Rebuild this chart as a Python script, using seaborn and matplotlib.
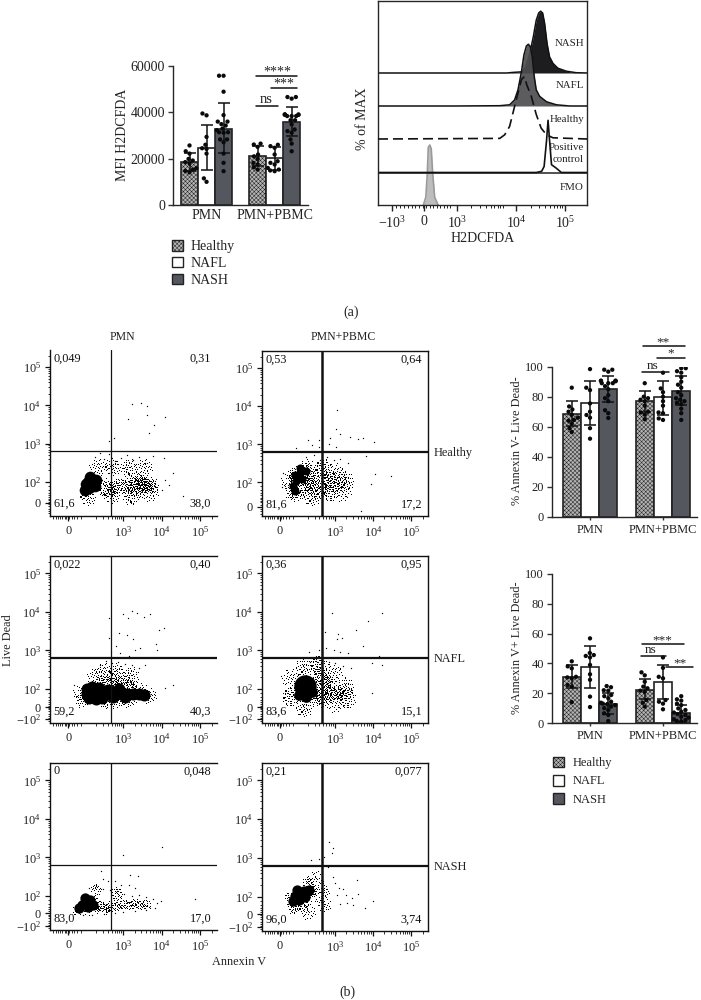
import warnings
import numpy as np
import pandas as pd
import matplotlib
matplotlib.use("Agg")
import matplotlib.pyplot as plt
from matplotlib.patches import Patch
from matplotlib.path import Path
from matplotlib.markers import MarkerStyle
import seaborn as sns

warnings.filterwarnings("ignore")
sns.set_theme(style="ticks")
plt.rcParams["font.family"] = ["Liberation Serif", "DejaVu Serif"]
plt.rcParams["mathtext.default"] = "regular"
plt.rcParams["hatch.linewidth"] = 0.35
plt.rcParams["axes.linewidth"] = 1.0

W, H = 701, 1000
GROUPS = ["Healthy", "NAFL", "NASH"]
COLORS = {"Healthy": "#b4b4b4", "NAFL": "#ffffff", "NASH": "#55575f"}
CONDITIONS = ["PMN", "PMN+PBMC"]

# ---------- bars: means, error limits (low, high), dots ----------
MFI_MEAN = [[18700, 21200], [24800, 20200], [33000, 36000]]
MFI_LOW = [[14800, 17000], [15000, 15000], [22300, 29800]]
MFI_HIGH = [[22500, 25500], [34500, 25200], [44000, 42500]]
MFI_DOTS = {
    ("Healthy", 0): [25700, 23200, 22200, 19900, 19200, 18500, 17900, 15900, 15300, 14700, 14100],
    ("NAFL", 0): [38700, 39500, 29400, 26000, 24500, 24200, 22200, 11500, 10000],
    ("NASH", 0): [55800, 55800, 48900, 38800, 36000, 36000, 34900, 34300, 33000, 32300, 31400, 31400,
                  31200, 28300, 28300, 27100, 22200, 18200, 14600],
    ("Healthy", 1): [26500, 26100, 25100, 21800, 21000, 19900, 18200, 17500, 16300, 15300],
    ("NAFL", 1): [26000, 25400, 24700, 21800, 18900, 18200, 17500, 16000, 15300, 14900, 14600],
    ("NASH", 1): [46600, 46600, 45900, 39100, 39100, 39000, 39000, 38900, 38400, 38400, 38400, 36600, 36600,
                  34800, 32600, 31900, 31200, 28300, 26500, 23200],
}
NEG_MEAN = [[68.5, 77], [76, 79.5], [85, 84]]
NEG_LOW = [[60.5, 70], [61, 68], [76.3, 74.5]]
NEG_HIGH = [[77, 84], [90.7, 90.5], [94, 94]]
NEG_DOTS = {
    ("Healthy", 0): [86, 73.5, 71.5, 70, 68, 66, 64.5, 64, 62, 59, 56.5],
    ("NAFL", 0): [98.4, 86, 84.4, 75.5, 70, 67.8, 66, 59, 52],
    ("NASH", 0): [98, 98, 96.7, 90.7, 90.7, 90.5, 90.5, 90.3, 89, 89, 89, 87, 85, 81, 79, 77, 71, 69, 65.8],
    ("Healthy", 1): [89, 80, 79, 78, 77, 74, 70, 69.5, 68, 65],
    ("NAFL", 1): [96, 85.5, 83, 80, 77, 74, 69.5, 69, 65.5, 64.5],
    ("NASH", 1): [99, 99, 97, 96, 93, 90, 88, 86, 83, 81, 79, 78, 77, 76, 75, 72, 69, 64.5],
}
POS_MEAN = [[31, 22.3], [37.5, 27.5], [13, 6.7]]
POS_LOW = [[23.5, 16], [23.5, 16], [6, 1]]
POS_HIGH = [[39, 29.5], [52, 39], [20, 12]]
POS_DOTS = {
    ("Healthy", 0): [41.4, 38, 36.7, 31, 30.6, 30, 25.5, 24.4, 14],
    ("NAFL", 0): [56.8, 47, 45.6, 45, 44, 39, 32.7, 29, 17.7, 10.7],
    ("NASH", 0): [24.8, 24, 22, 21.7, 18.8, 18, 16.6, 14.3, 13.6, 13, 12.7, 12, 11, 10, 8.7, 6.5, 5.4, 1.3],
    ("Healthy", 1): [34, 32, 27.7, 24.4, 23.3, 21.7, 21, 15.4, 13.6, 11],
    ("NAFL", 1): [44, 37, 31, 30, 15.4, 14.3, 13, 9.2],
    ("NASH", 1): [18, 15.9, 15, 13, 12, 9.8, 8.7, 7.6, 7, 6, 5.4, 4.3, 3.6, 2.5, 2, 1.3, 1],
}

# ---------- histogram overlays: display channel, % of max ----------
HIST_NASH_X = [-0.93, 1.68, 1.81, 2.0, 2.08, 2.15, 2.22, 2.28, 2.33, 2.37, 2.41, 2.45, 2.5, 2.55, 2.62, 2.72, 2.89, 3.09, 3.31]
HIST_NASH_Y = [0, 0, 1, 2, 13, 33, 60, 88, 100, 103, 100, 83, 49, 27, 16, 8, 3, 0.5, 0]
HIST_NAFL_X = [-0.93, 0.63, 1.54, 1.74, 1.84, 1.91, 1.98, 2.03, 2.08, 2.12, 2.16, 2.2, 2.24, 2.28, 2.35, 2.49, 2.69, 2.96, 3.31]
HIST_NAFL_Y = [0, 0, 0.5, 2, 10, 27, 57, 85, 100, 103, 99, 82, 49, 27, 16, 7, 2, 0, 0]
HIST_HEALTHY_X = [-0.93, 1.54, 1.64, 1.74, 1.84, 1.91, 1.98, 2.04, 2.09, 2.18, 2.28, 2.38, 2.49, 2.62, 3.31]
HIST_HEALTHY_Y = [0, 1, 7, 21, 54, 77, 99, 104, 90, 71, 41, 18, 7, 2, 0]
HIST_POS_X = [-0.93, 2.28, 2.39, 2.44, 2.49, 2.52, 2.55, 2.59, 2.69, 2.79, 3.31]
HIST_POS_Y = [0, 0, 2, 10, 54, 87, 54, 13, 7, 0, 0]
HIST_FMO_X = [-0.01, 0.04, 0.07, 0.09, 0.12, 0.15, 0.18, 0.22, 0.29]
HIST_FMO_Y = [0, 13, 52, 96, 100, 94, 52, 13, 0]
HIST_TICKS = [-0.65, 0, 0.67, 1.87, 2.86]
HIST_TICK_LABELS = [r"$-10^{3}$", "0", r"$10^{3}$", r"$10^{4}$", r"$10^{5}$"]

# ---------- flow cytometry clouds, read as (x channel, y channel) ----------
R1C1_CORE = [(2.10, 2.00), (2.20, 2.02), (2.12, 1.85), (2.26, 1.90), (2.03, 1.95), (2.30, 2.06), (2.15, 2.12), (2.02, 1.80)]
R1C1_MID = [(2.50, 1.90), (2.70, 1.85), (2.90, 1.90), (3.05, 1.88), (3.20, 1.88), (3.32, 1.92), (3.42, 1.90), (3.50, 1.96),
            (3.58, 1.92), (3.66, 1.92), (3.75, 1.92), (3.45, 2.02), (2.58, 1.75), (3.40, 1.80)]
R1C1_HALO = [(2.35, 2.35), (2.75, 2.40), (3.15, 2.35), (3.55, 2.35), (2.70, 1.65), (3.20, 1.62), (3.70, 1.70), (2.10, 1.60)]
R1C1_DUST = [(3.24, 4.03), (3.47, 4.06), (3.62, 3.99), (3.62, 3.74), (3.14, 3.65), (3.81, 3.49), (4.10, 3.70), (3.66, 3.29),
             (2.77, 3.16), (2.64, 3.07), (2.40, 2.75), (2.28, 2.66), (2.50, 2.60), (2.63, 2.72), (2.78, 2.55), (2.95, 2.63),
             (3.10, 2.70), (3.25, 2.58), (3.42, 2.66), (3.56, 2.50), (3.78, 2.68), (4.05, 2.62), (4.10, 2.05), (4.18, 1.92),
             (4.30, 2.22), (4.55, 1.63), (4.02, 1.80)]
R1C2_CORE = [(1.95, 2.20), (2.10, 2.25), (2.25, 2.30), (2.00, 2.05), (2.15, 2.10), (1.90, 1.90), (1.95, 1.78), (2.10, 2.38)]
R1C2_MID = [(1.80, 2.05), (1.85, 1.75), (2.05, 1.70), (2.20, 1.85), (2.32, 2.00), (2.38, 2.15), (2.42, 1.90), (2.30, 2.40),
            (1.95, 2.20), (2.10, 2.25), (2.25, 2.30), (2.00, 2.05), (2.15, 2.10)]
R1C2_HALO = [(2.65, 2.10), (2.62, 1.80), (2.88, 2.05), (3.10, 2.00), (3.30, 2.05), (2.90, 1.75), (3.20, 1.75), (2.40, 1.62),
             (2.70, 2.35), (3.00, 2.25)]
R1C2_DUST = [(3.06, 3.91), (3.03, 3.39), (3.13, 3.28), (2.88, 3.17), (2.84, 3.01), (3.03, 2.94), (3.40, 3.19), (3.60, 3.14),
             (3.73, 3.17), (4.03, 3.07), (2.31, 3.12), (2.42, 2.98), (2.60, 3.12), (2.60, 2.93), (2.00, 2.90), (3.81, 2.70),
             (4.46, 2.18), (4.05, 2.23), (3.69, 1.25), (2.25, 2.68), (2.45, 2.72), (2.62, 2.60), (2.80, 2.68), (2.98, 2.58),
             (3.15, 2.62), (3.35, 2.52), (3.95, 1.95), (1.62, 1.88), (1.65, 2.25)]
R2C1_CORE = [(2.05, 1.88), (2.20, 1.92), (2.35, 1.88), (2.12, 1.78), (2.30, 1.75), (2.50, 1.88), (2.65, 1.88), (2.80, 1.92),
             (2.95, 1.90), (3.10, 1.88), (3.25, 1.86), (3.40, 1.86), (2.05, 2.00), (2.20, 2.05), (2.45, 1.78), (2.75, 1.80),
             (2.60, 1.98), (2.90, 2.00), (3.05, 1.80), (3.55, 1.85), (2.38, 2.02)]
R2C1_MID = [(3.68, 1.82), (3.50, 1.95), (2.50, 2.15), (2.65, 2.15), (2.80, 2.18), (2.95, 2.12), (3.10, 2.08), (3.25, 2.02),
            (1.95, 1.72), (1.90, 1.90), (2.55, 1.68), (2.85, 1.68), (3.15, 1.72)]
R2C1_HALO = [(2.50, 2.45), (2.85, 2.45), (3.20, 2.35), (2.30, 2.30)]
R2C1_DUST = [(2.99, 3.95), (3.24, 4.02), (3.37, 3.98), (3.54, 3.87), (3.70, 3.94), (3.14, 3.85), (4.06, 3.58), (3.92, 3.53),
             (2.64, 3.85), (2.64, 3.33), (2.90, 3.46), (3.11, 3.39), (3.25, 3.30), (2.81, 3.11), (3.31, 3.00), (3.44, 3.07),
             (3.86, 3.17), (3.88, 3.00), (2.68, 2.96), (2.92, 2.94), (3.16, 2.85), (2.40, 2.62), (2.55, 2.72), (2.72, 2.68),
             (2.88, 2.70), (3.05, 2.65), (3.22, 2.62), (3.40, 2.55), (3.58, 2.62), (4.10, 2.02), (4.30, 2.10), (1.72, 2.10)]
R2C2_CORE = [(2.26, 2.11), (2.08, 1.85), (2.25, 1.80), (2.42, 1.92)]
R2C2_CORE_BIG = [(2.22, 2.08)]
R2C2_MID = [(2.55, 2.10), (2.60, 1.90), (2.55, 1.75), (2.72, 2.30), (2.78, 2.05), (2.88, 1.88), (2.98, 1.90), (2.85, 2.20),
            (2.62, 2.38), (2.72, 1.72), (3.15, 1.90)]
R2C2_HALO = [(2.95, 2.42), (3.30, 2.05), (3.35, 1.75), (3.00, 1.65), (2.20, 1.52), (1.85, 1.80), (1.85, 2.25), (2.20, 2.55),
             (2.60, 2.62)]
R2C2_DUST = [(2.93, 3.97), (4.23, 3.97), (3.86, 3.76), (3.56, 3.54), (2.76, 3.48), (3.10, 3.44), (3.20, 3.32), (3.07, 3.31),
             (3.74, 3.12), (2.60, 3.00), (2.78, 3.06), (2.98, 3.00), (3.14, 2.96), (3.36, 2.94), (4.16, 2.86), (3.97, 2.67),
             (4.25, 2.63), (2.33, 2.96), (2.35, 2.70), (2.50, 2.72), (2.68, 2.75), (2.85, 2.70), (3.02, 2.68), (3.22, 2.60),
             (3.42, 2.55), (3.98, 1.90), (1.45, 1.40)]
R3C1_CORE = [(2.02, 1.85), (2.14, 1.90), (1.92, 1.78), (2.08, 1.72), (2.22, 1.76), (1.85, 1.70), (2.00, 1.95)]
R3C1_MID = [(2.32, 1.72), (2.42, 1.75), (2.52, 1.70), (2.62, 1.74), (2.72, 1.72), (2.82, 1.76), (2.92, 1.74), (3.02, 1.78),
            (3.12, 1.76), (3.22, 1.80), (3.32, 1.76), (3.42, 1.80), (3.52, 1.78), (3.62, 1.78), (2.30, 1.88), (2.38, 1.66),
            (1.80, 1.62), (2.10, 1.62), (2.60, 1.64)]
R3C1_HALO = [(2.30, 2.15), (2.85, 2.05)]
R3C1_DUST = [(4.02, 3.26), (3.00, 3.07), (2.42, 2.65), (3.18, 2.54), (3.39, 2.51), (2.48, 2.43), (4.87, 1.92), (2.60, 2.38),
             (2.78, 2.38), (2.95, 2.28), (3.15, 2.28), (3.32, 2.22), (2.30, 2.28), (2.12, 2.22), (2.48, 2.18), (2.65, 2.15),
             (2.85, 2.12), (3.02, 2.05), (3.22, 2.00), (3.40, 2.02), (3.60, 1.98), (3.78, 1.92), (3.88, 1.82), (3.98, 1.88),
             (3.82, 1.68), (3.60, 1.64), (3.30, 1.62), (3.00, 1.58), (2.78, 1.56), (2.50, 1.54), (2.20, 1.50), (1.95, 1.52)]
R3C2_CORE = [(2.08, 2.08), (1.95, 2.02), (2.20, 2.14), (2.32, 2.18), (1.92, 1.90), (2.08, 1.92), (2.22, 2.00), (2.02, 2.18)]
R3C2_MID = [(2.42, 2.18), (2.30, 2.32), (1.85, 1.98), (2.00, 1.78), (2.18, 1.82), (2.45, 2.05)]
R3C2_HALO = [(2.50, 2.45), (2.72, 2.15), (2.72, 1.80), (2.30, 1.62), (1.90, 1.70)]
R3C2_DUST = [(2.85, 3.42), (2.95, 3.27), (2.93, 3.12), (2.72, 3.03), (2.39, 2.94), (2.60, 2.97), (2.82, 2.78), (3.58, 2.43),
             (3.62, 2.08), (4.00, 1.89), (3.79, 1.72), (3.44, 1.96), (3.31, 1.85), (3.47, 1.79), (3.22, 2.20), (2.95, 2.50),
             (3.15, 1.82), (3.30, 2.05), (3.12, 2.22), (3.05, 2.05), (3.02, 2.35)]

FLOW_PANELS = [
    ("0,049", "0,31", "61,6", "38,0", R1C1_CORE, R1C1_MID, R1C1_HALO, R1C1_DUST, 1.45, False, 70, 130, 170),
    ("0,53", "0,64", "81,6", "17,2", R1C2_CORE, R1C2_MID, R1C2_HALO, R1C2_DUST, 1.36, False, 34, 130, 190),
    ("0,022", "0,40", "59,2", "40,3", R2C1_CORE, R2C1_MID, R2C1_HALO, R2C1_DUST, 1.53, True, 75, 130, 170),
    ("0,36", "0,95", "83,6", "15,1", R2C2_CORE, R2C2_MID, R2C2_HALO, R2C2_DUST, 1.53, True, 60, 130, 190),
    ("0", "0,048", "83,0", "17,0", R3C1_CORE, R3C1_MID, R3C1_HALO, R3C1_DUST, 1.55, True, 55, 50, 100),
    ("0,21", "0,077", "96,0", "3,74", R3C2_CORE, R3C2_MID, R3C2_HALO, R3C2_DUST, 1.55, True, 55, 100, 120),
]
FLOW_BOXES = [(50, 217, 350, 515.5), (262, 428, 351, 516), (50, 217, 556, 723),
              (262, 428, 556, 723), (50, 217, 763, 930), (262, 428, 763, 931)]

# Marker shape: a clump of events, each tiny square one event
SPECKLE = [(0.02, 0.05), (-0.12, 0.18), (0.15, -0.10), (-0.25, -0.08), (0.28, 0.14), (0.05, -0.30), (-0.08, 0.34),
           (0.34, -0.27), (-0.36, 0.27), (-0.30, -0.34), (0.22, 0.40), (0.48, 0.02), (-0.50, 0.05), (0.08, 0.52),
           (-0.05, -0.52), (0.42, -0.44), (-0.44, -0.48), (0.40, 0.50), (-0.38, 0.55), (0.65, 0.22), (-0.68, -0.18),
           (0.18, -0.66), (-0.22, 0.70), (0.70, -0.20), (-0.66, 0.38), (0.55, -0.60), (-0.58, -0.62), (0.58, 0.62),
           (0.12, 0.82), (-0.10, -0.85), (0.85, 0.08), (-0.88, 0.02), (0.82, 0.42), (-0.80, -0.45), (0.38, -0.88),
           (-0.42, 0.88), (0.95, -0.30), (-0.95, 0.30), (0.30, 0.95), (-0.28, -0.95)]


def speckle_marker(a, b, c, d):
    verts, codes = [], []
    h = 0.055
    for x, y in SPECKLE:
        px, py = a * x + b * y, c * x + d * y
        verts += [(px - h, py - h), (px + h, py - h), (px + h, py + h), (px - h, py + h), (px - h, py - h)]
        codes += [Path.MOVETO, Path.LINETO, Path.LINETO, Path.LINETO, Path.CLOSEPOLY]
    return MarkerStyle(Path(verts, codes))


STAMPS = [speckle_marker(1, 0, 0, 1), speckle_marker(0.75, 0.3, -0.45, 0.8), speckle_marker(-0.6, 0.55, 0.6, 0.7)]


def add_ax(left, right, top, bottom):
    return fig.add_axes([left / W, 1 - bottom / H, (right - left) / W, (bottom - top) / H])


def ftext(x, y, s, **kw):
    kw.setdefault("ha", "center")
    kw.setdefault("va", "center")
    kw.setdefault("color", "#222222")
    fig.text(x / W, 1 - y / H, s, **kw)


def fline(x0, x1, y):
    fig.add_artist(plt.Line2D([x0 / W, x1 / W], [1 - y / H, 1 - y / H], color="#111111", lw=1.1))


def bar_panel(box, means, lows, highs, dots, ymax, yticks, fs, dot_size, tick_len):
    ax = add_ax(*box[:4])
    pos_bar, val_bar, grp_bar = [], [], []
    pos_dot, val_dot, grp_dot = [], [], []
    for j, g in enumerate(GROUPS):
        for i in range(2):
            x = i + (j - 1) * 0.25
            pos_bar.append(x); val_bar.append(means[j][i]); grp_bar.append(g)
            for v in dots[(g, i)]:
                pos_dot.append(x); val_dot.append(v); grp_dot.append(g)
    bars = pd.DataFrame({"x": pos_bar, "y": val_bar, "g": grp_bar})
    pts = pd.DataFrame({"x": pos_dot, "y": val_dot, "g": grp_dot})
    sns.barplot(data=bars, x="x", y="y", hue="g", hue_order=GROUPS, palette=COLORS, native_scale=True,
                dodge=False, width=1.0, saturation=1, edgecolor="#222222", linewidth=1.2, errorbar=None,
                legend=False, ax=ax)
    for patch in ax.containers[0]:
        patch.set_hatch("xxxxxxxx")
    for j in range(3):
        for i in range(2):
            x = i + (j - 1) * 0.25
            ax.errorbar(x, means[j][i], yerr=[[means[j][i] - lows[j][i]], [highs[j][i] - means[j][i]]],
                        color="#111111", capsize=4, lw=1.1, capthick=1.1, zorder=6)
    sns.swarmplot(data=pts, x="x", y="y", hue="g", hue_order=GROUPS, palette={g: "#0a0a0a" for g in GROUPS},
                  native_scale=True, dodge=False, size=dot_size, legend=False, ax=ax, zorder=7)
    ax.set_xlim(box[4], box[5])
    ax.set_ylim(0, ymax)
    ax.set_xticks([0, 1])
    ax.set_xticklabels(CONDITIONS, fontsize=fs, color="#222222")
    ax.set_yticks(yticks)
    ax.tick_params(axis="y", labelsize=fs, length=3.5, width=1, colors="#333333", pad=2, labelcolor="#222222")
    ax.tick_params(axis="x", length=tick_len, width=1, color="#333333", pad=3)
    ax.set_xlabel("")
    ax.set_ylabel("")
    sns.despine(ax=ax)
    ax.patch.set_alpha(0)
    return ax


fig = plt.figure(figsize=(W / 100, H / 100), dpi=100)

# ---------- (a) bar panel ----------
bar_panel((172.7, 308, 66, 205, -0.497, 1.49), MFI_MEAN, MFI_LOW, MFI_HIGH, MFI_DOTS, 60000,
          [0, 20000, 40000, 60000], 10, 3.1, 0)
ftext(122, 135, "MFI H2DCFDA", rotation=90, fontsize=10)
fline(256, 297, 76); fline(271, 297, 87.5); fline(256, 278, 106)
ftext(277, 72.5, "****", fontsize=10)
ftext(284, 84, "***", fontsize=10)
ftext(266.5, 99.5, "ns", fontsize=10.5)
handles = [Patch(facecolor=COLORS[g], edgecolor="#222222", hatch="xxxxxxxx" if g == "Healthy" else None, lw=1) for g in GROUPS]
fig.legend(handles, GROUPS, loc="upper left", bbox_to_anchor=(171.5 / W, 1 - 240 / H), frameon=False, fontsize=10,
           handlelength=0.8, handleheight=0.8, labelspacing=0.26, handletextpad=0.55, borderpad=0, borderaxespad=0,
           labelcolor="#222222")

# ---------- (a) histogram overlays ----------
hx = add_ax(378, 587, 1, 205)
SCALE = 0.6
fmo_y = np.array(HIST_FMO_Y) * SCALE
hx.fill_between(HIST_FMO_X, 0, fmo_y, color="#bdbdbd", lw=0)
sns.lineplot(x=HIST_FMO_X, y=fmo_y, color="#9a9a9a", lw=1.2, ax=hx, sort=False)
sns.lineplot(x=[-0.93, 3.31], y=[32.5, 32.5], color="#222222", lw=1.1, ax=hx, sort=False)
sns.lineplot(x=HIST_POS_X, y=np.array(HIST_POS_Y) * SCALE + 32.5, color="#111111", lw=1.2, ax=hx, sort=False)
nash_y = np.array(HIST_NASH_Y) * SCALE + 132
hx.fill_between(HIST_NASH_X, 132, nash_y, color="#1d1d1f", lw=0, zorder=2)
sns.lineplot(x=HIST_NASH_X, y=nash_y, color="#111111", lw=1.1, ax=hx, sort=False, zorder=2)
nafl_y = np.array(HIST_NAFL_Y) * SCALE + 99
hx.fill_between(HIST_NAFL_X, 99, nafl_y, color="#4e4e50", alpha=0.92, lw=0, zorder=3)
sns.lineplot(x=HIST_NAFL_X, y=nafl_y, color="#111111", lw=1.1, ax=hx, sort=False, zorder=3)
sns.lineplot(x=HIST_HEALTHY_X, y=np.array(HIST_HEALTHY_Y) * SCALE + 66, color="#111111", lw=1.2, ax=hx, sort=False,
             zorder=4, linestyle=(0, (6, 3)))
hx.set_xlim(-0.93, 3.31)
hx.set_ylim(0, 204)
hx.set_yticks([])
hx.set_xticks(HIST_TICKS)
hx.set_xticklabels(HIST_TICK_LABELS, fontsize=10, color="#222222")
hist_minor = [t + np.log10(m) * 0.98 for t in (0.67, 1.87) for m in range(2, 10)] + \
             [-0.65 + k * 0.08 for k in range(1, 9)] + [0.05 + k * 0.07 for k in range(8)]
hx.set_xticks(hist_minor, minor=True)
hx.tick_params(axis="x", which="major", length=4, width=1, color="#222222", pad=3)
hx.tick_params(axis="x", which="minor", length=2, width=0.7, color="#222222")
hx.set_xlabel(""); hx.set_ylabel("")
for s, y in [("NASH", 43), ("NAFL", 85), ("Healthy", 119), ("Positive", 148), ("control", 159.5), ("FMO", 187)]:
    ftext(584, y, s, ha="right", fontsize=7.8)
ftext(483, 238, "H2DCFDA", fontsize=10)
ftext(363, 119, "% of MAX", rotation=90, fontsize=10)
ftext(351, 312, "(a)", fontsize=10)


# ---------- (b) flow panels ----------
def cloud(ax, pts, size, marker=None):
    if not pts:
        return
    arr = np.array(pts)
    kw = {"marker": marker} if marker is not None else {}
    sns.scatterplot(x=arr[:, 0], y=arr[:, 1], s=size, color="black", linewidth=0, ax=ax, legend=False, zorder=2, **kw)


flow_minor = [d + np.log10(m) for d in (2, 3, 4, 5) for m in range(2, 10) if d + np.log10(m) < 5.42]
low_minor = [1.18, 1.25, 1.3, 1.36, 1.42, 1.48, 1.52, 1.56, 1.6, 1.66, 1.72, 1.8, 1.9]
for idx, (panel, box) in enumerate(zip(FLOW_PANELS, FLOW_BOXES)):
    ul, ur, ll, lr, core, mid, halo, dust, zero, has_top, core_s, mid_s, halo_s = panel
    ax = add_ax(*box)
    col2 = idx % 2 == 1
    cloud(ax, dust, 0.9)
    for k, stamp in enumerate(STAMPS):
        cloud(ax, halo[k::3], halo_s, stamp)
        cloud(ax, mid[k::3], mid_s, stamp)
    cloud(ax, core, core_s)
    if idx == 3:
        cloud(ax, R2C2_CORE_BIG, 260)
    lw = 1.8 if col2 else 0.9
    ax.axvline(2.68, color="#111111", lw=lw, zorder=3)
    ax.axhline(2.80, color="#111111", lw=1.6 if col2 or idx == 2 else 0.9, zorder=3)
    ax.set_xlim(1.10, 5.44)
    ax.set_ylim(1.12, 5.45)
    ax.set_xticks([1.57, 3, 4, 5])
    ax.set_xticklabels(["0", r"$10^{3}$", r"$10^{4}$", r"$10^{5}$"], fontsize=8.8, color="#222222")
    if idx < 2:
        ax.set_yticks([zero, 2, 3, 4, 5])
        ax.set_yticklabels(["0", r"$10^{2}$", r"$10^{3}$", r"$10^{4}$", r"$10^{5}$"], fontsize=8.8, color="#222222")
    else:
        ax.set_yticks([1.22, zero, 2, 3, 4, 5])
        ax.set_yticklabels([r"$-10^{2}$", "0", r"$10^{2}$", r"$10^{3}$", r"$10^{4}$", r"$10^{5}$"], fontsize=8.8, color="#222222")
    ax.set_xticks(low_minor + flow_minor, minor=True)
    ax.set_yticks(low_minor + flow_minor, minor=True)
    ax.tick_params(which="major", length=3.5, width=0.9, color="#111111", pad=3)
    ax.tick_params(which="minor", length=1.8, width=0.6, color="#111111")
    ax.set_xlabel(""); ax.set_ylabel("")
    ax.spines["right"].set_visible(col2)
    ax.spines["top"].set_visible(col2 or has_top)
    for sp in ax.spines.values():
        sp.set_color("#111111")
        sp.set_linewidth(1.0)
    kw = dict(transform=ax.transAxes, fontsize=8.8, color="#111111", va="center", zorder=5)
    ax.text(0.02, 0.95, ul, ha="left", **kw)
    ax.text(0.965, 0.95, ur, ha="right", **kw)
    ax.text(0.02, 0.07, ll, ha="left", **kw)
    ax.text(0.965, 0.07, lr, ha="right", **kw)

ftext(122, 337, "PMN", fontsize=8.5)
ftext(343, 337, "PMN+PBMC", fontsize=8.5)
ftext(434, 453, "Healthy", ha="left", fontsize=8.8)
ftext(434, 659, "NAFL", ha="left", fontsize=8.8)
ftext(434, 867, "NASH", ha="left", fontsize=8.8)
ftext(8, 640, "Live Dead", rotation=90, fontsize=8.8)
ftext(239, 962, "Annexin V", fontsize=8.8)
ftext(347, 992, "(b)", fontsize=10)

# ---------- (b) bar panels ----------
bar_panel((551.7, 697, 366.7, 516.7, -0.525, 1.466), NEG_MEAN, NEG_LOW, NEG_HIGH, NEG_DOTS, 100,
          [0, 20, 40, 60, 80, 100], 9, 3.1, 2)
ftext(517, 441, "% Annexin V- Live Dead-", rotation=90, fontsize=8.8)
fline(642.7, 685, 346); fline(657, 685, 357.7); fline(642, 669, 372)
ftext(663, 342, "**", fontsize=9.5)
ftext(671, 353.5, "*", fontsize=9.5)
ftext(653, 366, "ns", fontsize=9.5)

bar_panel((551.7, 697, 574, 723, -0.525, 1.466), POS_MEAN, POS_LOW, POS_HIGH, POS_DOTS, 100,
          [0, 20, 40, 60, 80, 100], 9, 3.1, 2)
ftext(517, 648, "% Annexin V+ Live Dead-", rotation=90, fontsize=8.8)
fline(641.7, 684, 644); fline(641, 666, 656); fline(666, 693, 667)
ftext(662, 640, "***", fontsize=9.5)
ftext(651, 650, "ns", fontsize=9.5)
ftext(680, 663, "**", fontsize=9.5)
fig.legend(handles, GROUPS, loc="upper left", bbox_to_anchor=(552.5 / W, 1 - 756.5 / H), frameon=False, fontsize=9,
           handlelength=0.95, handleheight=0.95, labelspacing=0.45, handletextpad=0.7, borderpad=0, borderaxespad=0,
           labelcolor="#222222")

fig.savefig("out.png", dpi=100)
